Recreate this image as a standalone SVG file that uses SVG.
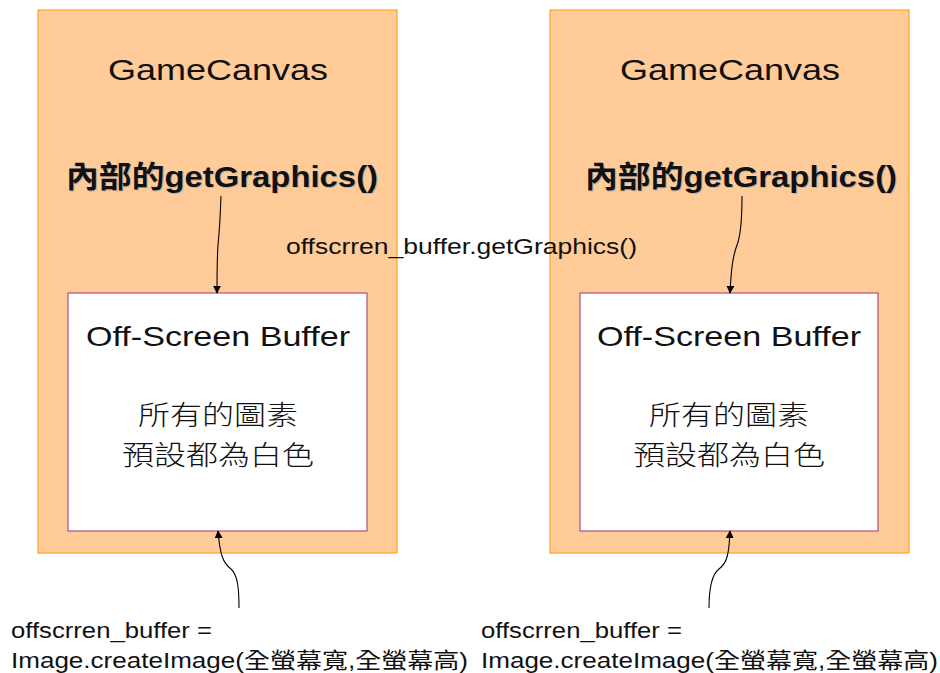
<svg xmlns="http://www.w3.org/2000/svg" width="940" height="673" viewBox="0 0 940 673">
  <style>
    .canvas { fill: #FFCC99; stroke: #FFA31A; stroke-width: 1.2; }
    .buffer { fill: #FFFFFF; stroke: #B0507A; stroke-width: 1.2; }
    .t { font-family: "Liberation Sans", "Noto Sans CJK TC", sans-serif; fill: #111; }
    .title { font-size: 30px; text-anchor: middle; }
    .bold { font-size: 30px; font-weight: bold; text-anchor: middle; }
    .shadow { fill: #9aa3b0; opacity: 0.6; }
    .mid { font-size: 28px; text-anchor: middle; }
    .cjk { font-size: 27px; text-anchor: middle; font-family: "Noto Sans CJK TC", sans-serif; font-weight: 300; }
    .label { font-size: 22px; }
    .edge { fill: none; stroke: #000; stroke-width: 1.1; }
  </style>
  <defs>
    <marker id="arrow" viewBox="0 0 10 10" refX="9" refY="5" markerWidth="8" markerHeight="8" markerUnits="userSpaceOnUse" orient="auto">
      <path d="M0,0 L10,5 L0,10 z" fill="#000"/>
    </marker>
  </defs>

  <!-- left canvas -->
  <g id="canvas-left">
    <rect class="canvas" x="38" y="10" width="359" height="543"/>
    <text class="t title" x="218" y="80" textLength="220" lengthAdjust="spacingAndGlyphs">GameCanvas</text>
    <text class="t bold shadow" x="223" y="188" textLength="312" lengthAdjust="spacingAndGlyphs">內部的getGraphics()</text>
    <text class="t bold" x="222" y="187" textLength="312" lengthAdjust="spacingAndGlyphs">內部的getGraphics()</text>
  </g>
  <g id="buffer-left">
    <rect class="buffer" x="68" y="293" width="299" height="238"/>
    <text class="t mid" x="218" y="346" textLength="264" lengthAdjust="spacingAndGlyphs">Off-Screen Buffer</text>
    <text class="t cjk" x="218" y="425" textLength="160" lengthAdjust="spacingAndGlyphs">所有的圖素</text>
    <text class="t cjk" x="218" y="465" textLength="192" lengthAdjust="spacingAndGlyphs">預設都為白色</text>
  </g>

  <!-- right canvas -->
  <g id="canvas-right">
    <rect class="canvas" x="550" y="10" width="359" height="543"/>
    <text class="t title" x="730" y="80" textLength="220" lengthAdjust="spacingAndGlyphs">GameCanvas</text>
    <text class="t bold shadow" x="742" y="188" textLength="312" lengthAdjust="spacingAndGlyphs">內部的getGraphics()</text>
    <text class="t bold" x="741" y="187" textLength="312" lengthAdjust="spacingAndGlyphs">內部的getGraphics()</text>
  </g>
  <g id="buffer-right">
    <rect class="buffer" x="580" y="293" width="298" height="238"/>
    <text class="t mid" x="729" y="346" textLength="264" lengthAdjust="spacingAndGlyphs">Off-Screen Buffer</text>
    <text class="t cjk" x="729" y="425" textLength="160" lengthAdjust="spacingAndGlyphs">所有的圖素</text>
    <text class="t cjk" x="729" y="465" textLength="192" lengthAdjust="spacingAndGlyphs">預設都為白色</text>
  </g>

  <!-- free labels -->
  <g id="label-getgraphics">
    <text class="t label" x="286" y="254" textLength="351" lengthAdjust="spacingAndGlyphs">offscrren_buffer.getGraphics()</text>
  </g>
  <g id="label-create-left">
    <text class="t label" x="11" y="638" textLength="201" lengthAdjust="spacingAndGlyphs">offscrren_buffer =</text>
    <text class="t label" x="11" y="668" textLength="457" lengthAdjust="spacingAndGlyphs">Image.createImage(全螢幕寬,全螢幕高)</text>
  </g>
  <g id="label-create-right">
    <text class="t label" x="481" y="638" textLength="201" lengthAdjust="spacingAndGlyphs">offscrren_buffer =</text>
    <text class="t label" x="481" y="668" textLength="457" lengthAdjust="spacingAndGlyphs">Image.createImage(全螢幕寬,全螢幕高)</text>
  </g>

  <!-- connectors -->
  <g id="connectors">
    <path class="edge" marker-end="url(#arrow)" d="M221,196 C220,225 219,235 218,245 C217,260 217,275 217,293"/>
    <path class="edge" marker-end="url(#arrow)" d="M742,196 C742,215 741,235 737,245 C732,258 731,275 730,293"/>
    <path class="edge" marker-end="url(#arrow)" d="M239,608 C239,590 238,575 231,569 C223,563 220,555 218,531"/>
    <path class="edge" marker-end="url(#arrow)" d="M709,608 C709,590 711,575 719,569 C727,563 729,555 730,531"/>
  </g>
</svg>
